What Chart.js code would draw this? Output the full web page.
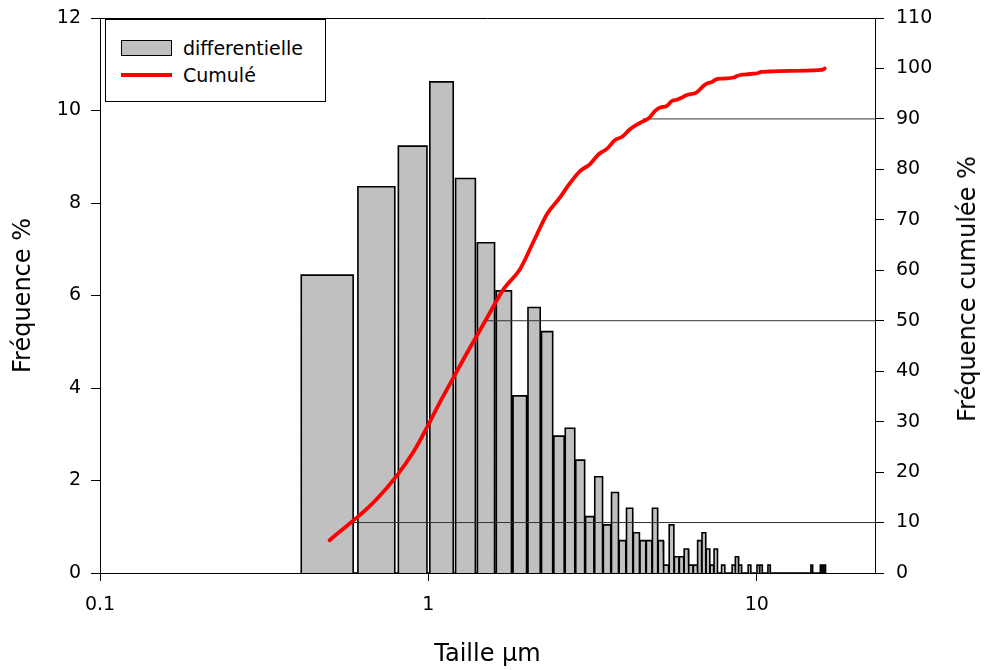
<!DOCTYPE html>
<html>
<head>
<meta charset="utf-8">
<script src="https://cdn.jsdelivr.net/npm/chart.js@4"></script>
<style>
  body { margin: 0; background: #fff; }
  #wrap { position: relative; width: 985px; height: 670px; }
  #legend {
    position: absolute; left: 105px; top: 19px; width: 221px; height: 83px;
    border: 1px solid #000; background: #fff; box-sizing: border-box;
    font-family: "DejaVu Sans", sans-serif; font-size: 19px; color: #000;
  }
  #legend .swatch { position: absolute; left: 15px; top: 20px; width: 51px; height: 16px;
    background: #c0c0c0; border: 1px solid #000; box-sizing: border-box; }
  #legend .redline { position: absolute; left: 15px; top: 53px; width: 51px; height: 4px; background: #f00; }
  #legend .lbl { position: absolute; left: 77px; line-height: 20px; }
  #rightTitle {
    position: absolute; left: 967px; top: 289px; transform: translate(-50%, -50%) rotate(-90deg);
    white-space: nowrap; font-family: "DejaVu Sans", sans-serif; font-size: 24px; color: #000;
  }
</style>
</head>
<body>
<div id="wrap">
  <canvas id="chart"></canvas>
  <div id="legend">
    <div class="swatch"></div><div class="lbl" style="top:18px">differentielle</div>
    <div class="redline"></div><div class="lbl" style="top:45px">Cumulé</div>
  </div>
  <div id="rightTitle">Fréquence cumulée %</div>
</div>
<script>
// bin centres (µm), only the non-empty bins
const sizes = [0.5, 0.7, 0.9, 1.1, 1.3, 1.5, 1.7, 1.9, 2.1, 2.3,
  2.5, 2.7, 2.9, 3.1, 3.3, 3.5, 3.7, 3.9, 4.1, 4.3,
  4.5, 4.7, 4.9, 5.1, 5.3, 5.5, 5.7, 5.9, 6.1, 6.3,
  6.5, 6.7, 6.9, 7.1, 7.3, 7.5, 7.9, 8.5, 8.7, 8.9,
  9.5, 10.1, 10.3, 10.9, 14.7, 15.7, 15.9, 16.1];

// differential frequency %
const freq = [6.44, 8.35, 9.23, 10.62, 8.53, 7.14, 6.10, 3.83, 5.74, 5.22,
  2.96, 3.13, 2.44, 1.22, 2.08, 1.04, 1.74, 0.70, 1.40, 0.87,
  0.70, 0.70, 1.40, 0.70, 0.17, 1.04, 0.35, 0.35, 0.52, 0.17,
  0.17, 0.70, 0.87, 0.52, 0.17, 0.52, 0.17, 0.17, 0.35, 0.17,
  0.17, 0.17, 0.17, 0.17, 0.17, 0.17, 0.17, 0.17];

// cumulative frequency %
const cumul = [6.5, 14.8, 24.0, 34.6, 43.2, 50.3, 56.4, 60.2, 66.0, 71.2,
  74.2, 77.3, 79.7, 81.0, 83.0, 84.1, 85.8, 86.5, 87.9, 88.8,
  89.5, 90.2, 91.6, 92.3, 92.5, 93.5, 93.8, 94.2, 94.7, 94.9,
  95.1, 95.8, 96.6, 97.1, 97.3, 97.8, 98.0, 98.2, 98.5, 98.7,
  98.9, 99.1, 99.3, 99.4, 99.6, 99.7, 99.8, 100.0];

// D10 / D50 / D90 reference lines
const refLevels = [10, 50, 90];
const refStart = [0.57, 1.47, 4.5];

const xTicks = [0.1, 1, 10];
const X_MIN = 0.1, X_MAX = 22.9;
const BAR_HALF = 0.09;
const FONT = "DejaVu Sans";

// outline of the histogram, one rectangle per bin
const barPoints = [];
sizes.forEach((s, i) => {
  barPoints.push({x: s - BAR_HALF, y: 0}, {x: s - BAR_HALF, y: freq[i]},
                 {x: s + BAR_HALF, y: freq[i]}, {x: s + BAR_HALF, y: 0});
});

const datasets = [{
  label: 'differentielle',
  data: barPoints,
  yAxisID: 'y',
  fill: 'origin',
  backgroundColor: '#c0c0c0',
  borderColor: '#000',
  borderWidth: 1.6,
  borderJoinStyle: 'miter',
  pointRadius: 0,
  tension: 0,
  order: 3
}];

refLevels.forEach((lv, i) => {
  datasets.push({
    label: 'ref' + lv,
    data: [{x: refStart[i], y: lv}, {x: X_MAX, y: lv}],
    yAxisID: 'y2',
    borderColor: '#333',
    borderWidth: 1,
    pointRadius: 0,
    fill: false,
    order: 2
  });
});

datasets.push({
  label: 'Cumulé',
  data: sizes.map((s, i) => ({x: s, y: cumul[i]})),
  yAxisID: 'y2',
  borderColor: '#ff0000',
  borderWidth: 3.8,
  pointRadius: 0,
  fill: false,
  cubicInterpolationMode: 'monotone',
  borderCapStyle: 'round',
  order: 1
});

// top edge of the frame
const frameTop = {
  id: 'frameTop',
  afterDraw(chart) {
    const {ctx, chartArea: a} = chart;
    ctx.save();
    ctx.strokeStyle = '#000';
    ctx.lineWidth = 1;
    ctx.beginPath();
    ctx.moveTo(a.left, a.top + 0.5);
    ctx.lineTo(a.right, a.top + 0.5);
    ctx.stroke();
    ctx.restore();
  }
};

const axisGrid = { display: true, drawOnChartArea: false, drawTicks: true, tickLength: 9, color: '#000' };
const axisBorder = { display: true, color: '#000', width: 1 };
// small lineHeight keeps the y tick labels from pushing the plot top down
const yTickFont = { family: FONT, size: 19, lineHeight: 0.5 };

new Chart(document.getElementById('chart'), {
  type: 'line',
  data: { datasets },
  plugins: [frameTop],
  options: {
    responsive: true,
    maintainAspectRatio: false,
    animation: false,
    layout: { padding: { top: 18, left: 0, right: 0, bottom: 0 } },
    plugins: { legend: { display: false }, tooltip: { enabled: false } },
    scales: {
      x: {
        type: 'logarithmic',
        min: X_MIN, max: X_MAX,
        afterBuildTicks: (scale) => { scale.ticks = xTicks.map(v => ({value: v, major: true})); },
        afterFit: (scale) => { scale.height = 97; },
        ticks: { color: '#000', font: { family: FONT, size: 19 }, padding: 13, maxRotation: 0,
                 callback: (v) => String(v) },
        grid: { ...axisGrid, tickLength: 8 },
        border: axisBorder,
        title: { display: true, text: 'Taille µm', color: '#000', font: { family: FONT, size: 24 },
                 padding: { top: 0, bottom: 1 } }
      },
      y: {
        position: 'left',
        min: 0, max: 12,
        afterFit: (scale) => { scale.width = 100; },
        ticks: { stepSize: 2, color: '#000', font: yTickFont, padding: 10 },
        grid: axisGrid,
        border: axisBorder,
        title: { display: true, text: 'Fréquence %', color: '#000', font: { family: FONT, size: 24 },
                 padding: { top: 9, bottom: 0 } }
      },
      y2: {
        position: 'right',
        min: 0, max: 110,
        afterFit: (scale) => { scale.width = 110; },
        ticks: { stepSize: 10, color: '#000', font: yTickFont, padding: 12 },
        grid: axisGrid,
        border: axisBorder
      }
    }
  }
});
</script>
</body>
</html>
